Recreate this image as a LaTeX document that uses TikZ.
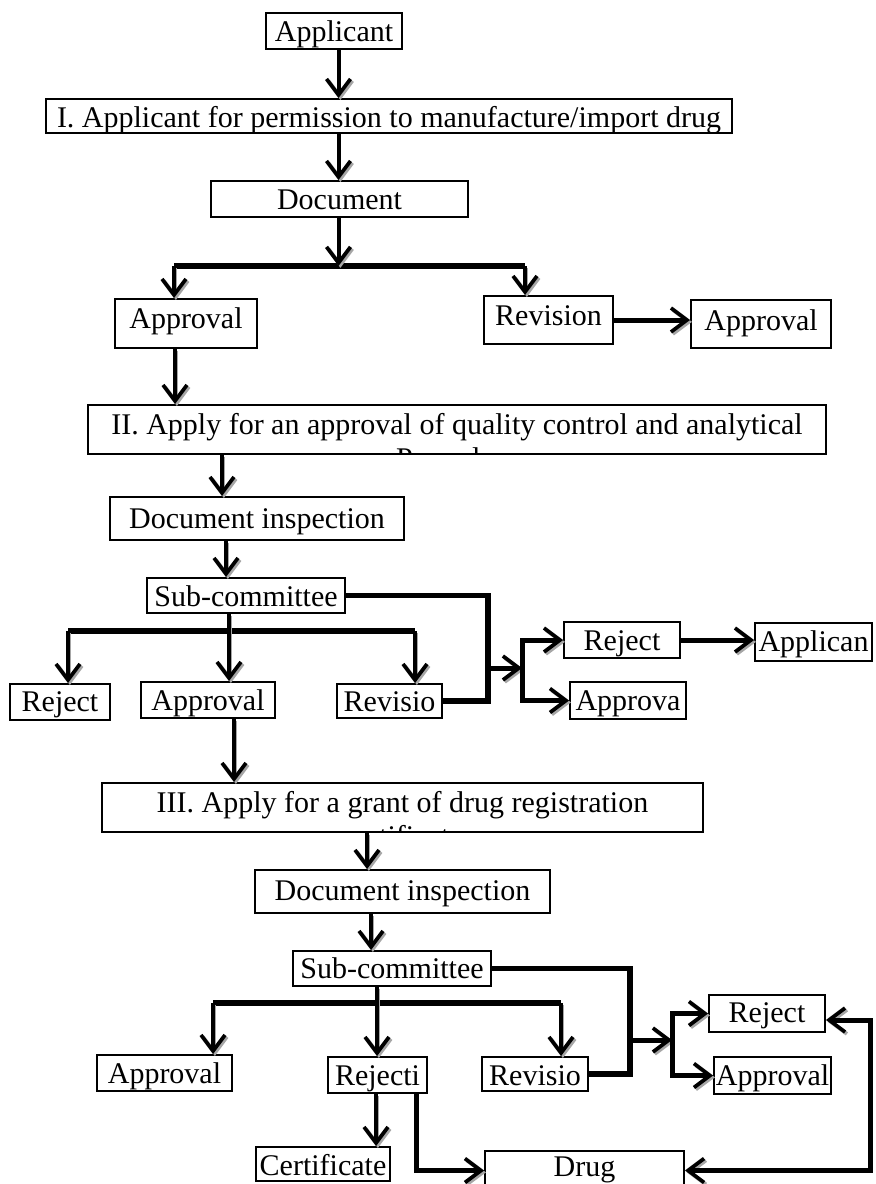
\documentclass[tikz,border=0pt]{standalone}
\usepackage{fontspec}
\setmainfont{Liberation Serif}
\usetikzlibrary{arrows.meta}
\newcommand\fsz{\fontsize{22.5}{27}\selectfont}
\newcommand\bx[7]{%
  \pgfmathsetmacro\bxw{(#4-#2)*0.75}%
  \pgfmathsetmacro\bxh{(#5-#3)*0.75}%
  \pgfmathsetmacro\bxt{2*(#6-(#3+#5)/2)*0.75}%
  \node[box, minimum width=\bxw pt, minimum height=\bxh pt, text height=\bxt pt, text depth=0pt] (#1) at ({(#2+#4)/2},{(#3+#5)/2}) {#7};}
\begin{document}
\begin{tikzpicture}[x=0.75pt,y=-0.75pt,
  box/.style={draw, line width=1.4pt, inner sep=0pt, font=\fsz, fill=white},
  >={Straight Barb[length=12pt,width=18pt,line width=2.8pt]},
  shad/.style={preaction={draw=black!35, transform canvas={shift={(1.4pt,-1.4pt)}}}},
  arr/.style={shad, line width=3pt, ->},
  arrk/.style={shad, line width=3.75pt, ->},
  bar/.style={shad, line width=4pt},
  dbl/.style={shad, line width=3.75pt, <->}]
\fill[white] (0,0) rectangle (875,1184);
\useasboundingbox (0,0) rectangle (875,1184);
\clip (0,0) rectangle (875,1184);

% coordinates for connector columns and bars
\coordinate (cA) at (338.5,0);
\coordinate (b1l) at (174,266); \coordinate (b1r) at (525,266);
\coordinate (cB) at (175,0);
\coordinate (cC) at (222,0);
\coordinate (cD) at (226,0);
\coordinate (cE) at (229,0);
\coordinate (b2l) at (68,631); \coordinate (b2r) at (415,631);
\coordinate (v1) at (488,0);
\coordinate (m1s) at (490,668); \coordinate (m1e) at (522,668);
\coordinate (cF) at (234,0);
\coordinate (cG) at (367,0);
\coordinate (cH) at (371,0);
\coordinate (cI) at (377,0);
\coordinate (b3l) at (213,1003); \coordinate (b3r) at (561,1003);
\coordinate (v2) at (630,0);
\coordinate (m2s) at (632,1040); \coordinate (m2e) at (672,1040);
\coordinate (cJ) at (376,0);
\coordinate (cK) at (416,0);
\coordinate (lp) at (870,1020);

% horizontal bars (drawn first, boxes on top)
\draw[bar] (b1l) -- (b1r);
\draw[bar] (b2l) -- (b2r);
\draw[bar] (b3l) -- (b3r);

% boxes
\bx{app}{266}{13}{402}{49}{42}{Applicant}
\bx{s1}{46}{99}{732}{133}{128}{I. Applicant for permission to manufacture/import drug}
\bx{doc}{211}{181}{468}{217}{209}{Document}
\bx{apL}{115}{299}{257}{348}{328}{Approval}
\bx{rev}{484}{296}{613}{344}{325}{Revision}
\bx{apR}{691}{300}{831}{348}{330}{Approval}
\bx{s2}{88}{405}{826}{454}{434}{II. Apply for an approval of quality control and analytical}
\bx{di1}{110}{497}{404}{540}{528}{Document inspection}
\bx{sc1}{147}{578}{345}{613}{606}{Sub-committee}
\bx{rj1}{10}{684}{110}{720}{711}{Reject}
\bx{ap1}{141}{682}{275}{718}{710}{Approval}
\bx{rv1}{337}{684}{442}{718}{711}{Revisio}
\bx{rj1b}{564}{622}{680}{658}{650}{Reject}
\bx{apc}{755}{623}{872}{661}{651}{Applican}
\bx{ap1b}{570}{682}{686}{719}{710}{Approva}
\bx{s3}{102}{783}{703}{832}{812}{III. Apply for a grant of drug registration}
\bx{di2}{255}{870}{550}{913}{900}{Document inspection}
\bx{sc2}{293}{951}{491}{986}{978}{Sub-committee}
\bx{ap2}{97}{1055}{232}{1091}{1083}{Approval}
\bx{rj2}{328}{1057}{427}{1093}{1085}{Rejecti}
\bx{rv2}{482}{1057}{588}{1091}{1085}{Revisio}
\bx{rj2b}{709}{995}{825}{1032}{1022}{Reject}
\bx{ap2b}{714}{1057}{831}{1094}{1085}{Approval}
\bx{cert}{256}{1147}{390}{1181}{1175}{Certificate}
\bx{drug}{485}{1151}{684}{1190}{1176}{Drug}

% second lines cut by their boxes
\begin{scope}
  \clip (s2.south west) rectangle (s2.north east);
  \node[font=\fsz, anchor=base, inner sep=0pt] (s2b) at (457,468) {Procedure};
\end{scope}
\begin{scope}
  \clip (s3.south west) rectangle (s3.north east);
  \node[font=\fsz, anchor=base, inner sep=0pt] (s3b) at (402.5,846) {certificate};
\end{scope}

% stage I
\draw[arr] (app.south -| cA) -- (s1.north -| cA);
\draw[arr] (s1.south -| cA) -- (doc.north -| cA);
\draw[arr] (doc.south -| cA) -- (b1l -| cA);
\draw[arr] (b1l) -- (apL.north -| b1l);
\draw[arr] (b1r) -- (rev.north -| b1r);
\draw[arrk] (rev.east) -- (rev.east -| apR.west);
\draw[arr] (apL.south -| cB) -- (s2.north -| cB);

% stage II
\draw[arr] (s2.south -| cC) -- (di1.north -| cC);
\draw[arr] (di1.south -| cD) -- (sc1.north -| cD);
\draw[arr] (sc1.south -| cE) -- (ap1.north -| cE);
\draw[arr] (b2l) -- (rj1.north -| b2l);
\draw[arr] (b2r) -- (rv1.north -| b2r);
\draw[bar] (sc1.east) -- (sc1.east -| v1) |- (rv1.east);
\draw[arrk] (m1s) -- (m1e);
\draw[arrk] (m1e) |- (rj1b.west);
\draw[arrk] (m1e) |- (ap1b.west);
\draw[arrk] (rj1b.east) -- (rj1b.east -| apc.west);
\draw[arr] (ap1.south -| cF) -- (s3.north -| cF);

% stage III
\draw[arr] (s3.south -| cG) -- (di2.north -| cG);
\draw[arr] (di2.south -| cH) -- (sc2.north -| cH);
\draw[arr] (sc2.south -| cI) -- (rj2.north -| cI);
\draw[arr] (b3l) -- (ap2.north -| b3l);
\draw[arr] (b3r) -- (rv2.north -| b3r);
\draw[bar] (sc2.east) -- (sc2.east -| v2) |- (rv2.east);
\draw[arrk] (m2s) -- (m2e);
\draw[arrk] (m2e) |- (rj2b.west);
\draw[arrk] (m2e) |- (ap2b.west);
\draw[arr] (rj2.south -| cJ) -- (cert.north -| cJ);
\draw[arrk] (rj2.south -| cK) |- (drug.west);
\draw[dbl] (drug.east) -- (drug.east -| lp) -- (lp) -- (lp -| rj2b.east);
\end{tikzpicture}
\end{document}
